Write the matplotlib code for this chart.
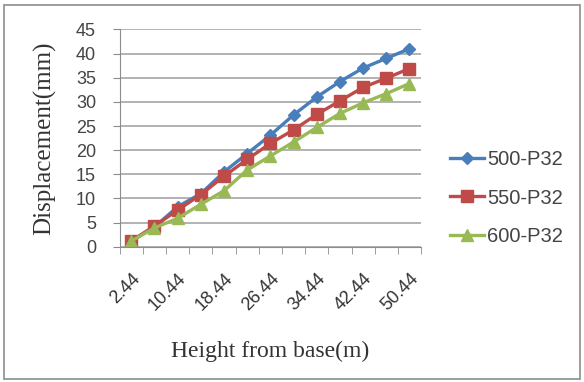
import numpy as np
import matplotlib.pyplot as plt
from matplotlib.patches import Rectangle

heights = ['2.44', '6.44', '10.44', '14.44', '18.44', '22.44', '26.44',
           '30.44', '34.44', '38.44', '42.44', '46.44', '50.44']
d500 = [1.2, 4.1, 8.3, 11.0, 15.5, 19.3, 23.1, 27.3, 31.0, 34.2, 37.0, 39.0, 41.0]
d550 = [1.2, 4.3, 7.6, 10.8, 14.6, 18.1, 21.4, 24.2, 27.4, 30.2, 33.0, 34.9, 36.9]
d600 = [1.2, 3.9, 5.9, 8.8, 11.6, 15.9, 18.8, 21.7, 24.7, 27.6, 29.8, 31.7, 33.8]
names = ['500-P32', '550-P32', '600-P32']

fig = plt.figure(figsize=(5.84, 3.82), dpi=100)
fig.patches.append(Rectangle((0.006, 0.008), 0.988, 0.978, transform=fig.transFigure,
                             fill=False, edgecolor='#8c8c8c', linewidth=1.2))
ax = fig.add_axes([0.205, 0.354, 0.516, 0.569])

x = np.arange(len(heights))
ax.plot(x, d500, color='#4A7EBB', marker='D', markersize=6.5, linewidth=2.4, label=names[0])
ax.plot(x, d550, color='#BE4B48', marker='s', markersize=8, linewidth=2.4, label=names[1])
ax.plot(x, d600, color='#98B954', marker='^', markersize=8, linewidth=2.4, label=names[2])

ax.set_xlim(-0.5, len(heights) - 0.5)
ax.set_ylim(0, 45)
ax.set_yticks(range(0, 46, 5))
ax.yaxis.grid(True, color='#a6a6a6', linewidth=1.2)
ax.set_axisbelow(True)

ax.set_xticks(x[::2])
ax.set_xticklabels(heights[::2], rotation=45, ha='right', rotation_mode='anchor',
                   family='Liberation Sans', fontsize=13, color='#333333')
ax.set_xticks(np.arange(-0.5, len(heights)), minor=True)
ax.tick_params(axis='x', which='major', length=0, pad=17)
ax.tick_params(axis='x', which='minor', length=5, color='#8c8c8c')
ax.tick_params(axis='y', length=5, color='#8c8c8c', pad=12, labelsize=13, labelcolor='#444444')
for lab in ax.get_yticklabels():
    lab.set_family('Liberation Sans')

for s in ['top', 'right']:
    ax.spines[s].set_visible(False)
for s in ['left', 'bottom']:
    ax.spines[s].set_color('#8c8c8c')

ax.set_xlabel('Height from base(m)', family='Liberation Serif', fontsize=17, color='#333333', labelpad=19)
ax.set_ylabel('Displacement(mm)', family='Liberation Serif', fontsize=18, color='#333333', labelpad=14)

leg = fig.legend(loc='center left', bbox_to_anchor=(450 / 584, 1 - 198 / 382),
                 bbox_transform=fig.transFigure, frameon=False, borderpad=0, borderaxespad=0,
                 prop={'family': 'Liberation Sans', 'size': 14.5}, handlelength=1.7,
                 handletextpad=0.15, labelspacing=0.95)
for t in leg.get_texts():
    t.set_color('#444444')

fig.savefig('out.png', dpi=100)
